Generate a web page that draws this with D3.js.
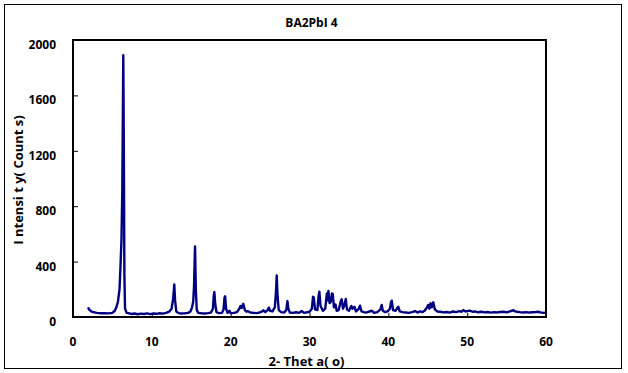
<!DOCTYPE html>
<html>
<head>
<meta charset="utf-8">
<script src="https://cdnjs.cloudflare.com/ajax/libs/d3/7.8.5/d3.min.js"></script>
<style>
  body { margin: 0; background: #fff; }
  text { font-family: "Open Sans", "Liberation Sans", sans-serif; font-weight: bold; }
</style>
</head>
<body>
<div id="mainGraphic"></div>
<script>
let svgWidth = 628
let svgHeight = 373

let chartTitle = "BA2PbI 4"
let xTitle = "2- Thet a( o)"
let yTitle = "I ntensi t y( Count s)"
let xTicks = [0, 10, 20, 30, 40, 50, 60]
let yTicks = [0, 400, 800, 1200, 1600, 2000]

// 2-theta (deg), counts
let theta = [
  1.9, 2.1, 2.4, 3.0, 3.5, 4.0, 4.5, 5.0, 5.3, 5.5, 5.7, 5.9, 6.0, 6.15, 6.25, 6.38, 6.45, 6.52, 6.6, 6.8,
  7.0, 7.4, 7.8, 8.2, 8.6, 9.0, 9.4, 9.8, 10.2, 10.6, 11.0, 11.4, 11.8, 12.2, 12.5, 12.7, 12.85, 12.95, 13.1, 13.4,
  13.8, 14.2, 14.6, 14.9, 15.1, 15.25, 15.35, 15.48, 15.58, 15.7, 15.9, 16.3, 16.7, 17.1, 17.5, 17.75, 17.85, 17.93, 18.05, 18.2,
  18.5, 18.9, 19.1, 19.22, 19.3, 19.42, 19.6, 19.85, 20.0, 20.4, 20.8, 21.1, 21.25, 21.4, 21.6, 21.8, 22.0, 22.2, 22.5, 22.9,
  23.3, 23.7, 24.0, 24.15, 24.4, 24.7, 24.85, 25.0, 25.3, 25.6, 25.75, 25.84, 25.95, 26.1, 26.4, 26.8, 27.05, 27.2, 27.32, 27.5,
  27.9, 28.3, 28.7, 29.0, 29.3, 29.7, 30.0, 30.3, 30.45, 30.55, 30.7, 31.0, 31.15, 31.25, 31.4, 31.7, 32.0, 32.2, 32.3, 32.4,
  32.55, 32.7, 32.85, 32.95, 33.1, 33.3, 33.45, 33.7, 33.95, 34.08, 34.25, 34.45, 34.6, 34.75, 35.0, 35.3, 35.45, 35.7, 35.9, 36.2,
  36.4, 36.6, 36.9, 37.2, 37.5, 37.9, 38.2, 38.6, 39.0, 39.16, 39.3, 39.6, 39.9, 40.2, 40.35, 40.43, 40.6, 40.9, 41.15, 41.27,
  41.45, 41.8, 42.2, 42.6, 43.0, 43.4, 43.7, 44.0, 44.3, 44.6, 44.9, 45.05, 45.2, 45.35, 45.5, 45.7, 45.9, 46.2, 46.6, 47.0,
  47.4, 47.8, 48.2, 48.6, 49.0, 49.3, 49.5, 49.8, 50.1, 50.4, 50.7, 51.0, 51.4, 51.8, 52.2, 52.6, 53.0, 53.4, 53.8, 54.2,
  54.6, 55.0, 55.4, 55.7, 55.85, 56.0, 56.3, 56.7, 57.1, 57.5, 57.9, 58.3, 58.7, 59.0, 59.3, 59.7, 60.0
]
let counts = [
  70, 50, 38, 30, 27, 28, 26, 30, 45, 70, 110, 200, 330, 560, 900, 1890, 1200, 300, 60, 30,
  28, 22, 25, 20, 24, 22, 26, 21, 25, 23, 27, 24, 30, 38, 60, 130, 235, 120, 40, 28,
  25, 27, 30, 40, 70, 110, 220, 510, 200, 50, 30, 27, 25, 28, 32, 60, 150, 180, 90, 35,
  28, 30, 55, 140, 150, 60, 30, 45, 28, 30, 35, 60, 80, 65, 95, 50, 38, 42, 32, 30,
  28, 33, 40, 48, 36, 50, 68, 45, 40, 70, 180, 300, 150, 50, 35, 32, 50, 115, 60, 32,
  30, 34, 30, 43, 30, 34, 38, 60, 147, 140, 55, 50, 150, 183, 80, 45, 60, 170, 120, 188,
  100, 110, 170, 165, 70, 90, 45, 50, 110, 128, 60, 90, 130, 55, 45, 80, 60, 74, 40, 55,
  82, 40, 35, 32, 38, 45, 30, 35, 55, 87, 45, 35, 40, 60, 110, 118, 50, 45, 65, 74,
  40, 35, 33, 30, 35, 43, 32, 40, 35, 45, 70, 87, 60, 99, 70, 106, 55, 40, 38, 33,
  36, 32, 40, 35, 42, 38, 50, 40, 44, 45, 38, 40, 34, 38, 33, 36, 32, 35, 33, 36,
  38, 34, 40, 45, 50, 42, 38, 35, 33, 35, 32, 34, 36, 38, 33, 30, 32
]

renderChart();

function renderChart(){
  let graphic = d3.select("#mainGraphic")
    .append("svg")
      .attr("width", svgWidth)
      .attr("height", svgHeight)

  // outer frame
  graphic.append("rect")
    .attr("x", 4.5).attr("y", 4.5)
    .attr("width", 617).attr("height", 364)
    .attr("fill", "none").attr("stroke", "#000").attr("stroke-width", 1)

  let left = 73, right = 546, top = 40, bottom = 317

  let x = d3.scaleLinear().domain([0, 60]).range([left, right])
  let y = d3.scaleLinear().domain([0, 2000]).range([bottom, top])

  // ticks point into the plot, labels drawn separately
  graphic.append("g")
    .attr("transform", `translate(0,${bottom})`)
    .call(d3.axisTop(x).tickValues(xTicks).tickSize(4).tickFormat(""))
    .call(g => g.select(".domain").remove())
  graphic.append("g")
    .attr("transform", `translate(${left},0)`)
    .call(d3.axisRight(y).tickValues(yTicks).tickSize(5).tickFormat(""))
    .call(g => g.select(".domain").remove())

  graphic.append("g").selectAll("text")
    .data(xTicks)
    .enter()
    .append("text")
      .attr("x", d => x(d))
      .attr("y", 346)
      .attr("text-anchor", "middle")
      .style("font-size", "12px")
      .text(d => d)

  graphic.append("g").selectAll("text")
    .data(yTicks)
    .enter()
    .append("text")
      .attr("x", 56)
      .attr("y", d => y(d) + 9)
      .attr("text-anchor", "end")
      .style("font-size", "12px")
      .text(d => d)

  let points = theta.map((t, i) => [t, counts[i]])
  let line = d3.line()
    .x(d => x(d[0]))
    .y(d => y(d[1]))

  graphic.append("path")
    .datum(points)
    .attr("d", line)
    .attr("fill", "none")
    .attr("stroke", "#000080")
    .attr("stroke-width", 2.4)
    .attr("stroke-linejoin", "round")

  // plot box
  graphic.append("rect")
    .attr("x", left).attr("y", top)
    .attr("width", right - left).attr("height", bottom - top)
    .attr("fill", "none").attr("stroke", "#000").attr("stroke-width", 2)

  graphic.append("text")
    .attr("x", (left + right) / 2 + 2)
    .attr("y", 27)
    .attr("text-anchor", "middle")
    .style("font-size", "12px")
    .text(chartTitle)

  graphic.append("text")
    .attr("x", (left + right) / 2 - 3)
    .attr("y", 366)
    .attr("text-anchor", "middle")
    .style("font-size", "13px")
    .text(xTitle)

  graphic.append("text")
    .attr("transform", "translate(23,180) rotate(-90)")
    .attr("text-anchor", "middle")
    .style("font-size", "13px")
    .text(yTitle)
}
</script>
</body>
</html>
